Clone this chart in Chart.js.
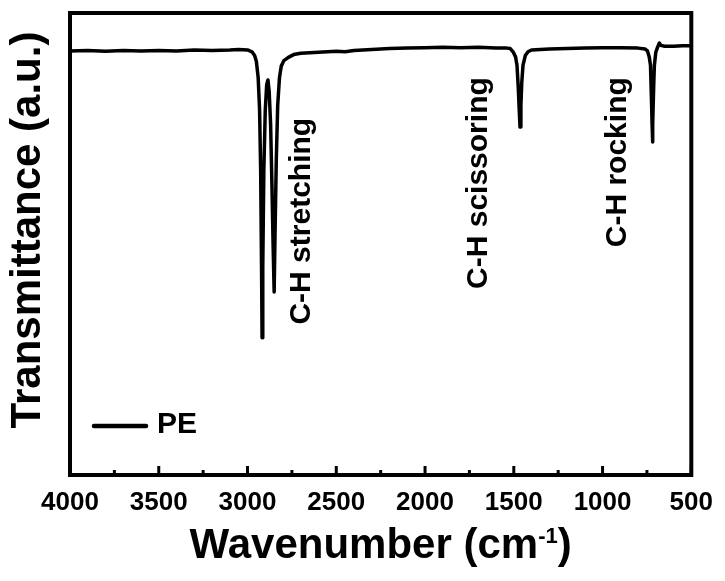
<!DOCTYPE html>
<html>
<head>
<meta charset="utf-8">
<script src="https://cdn.jsdelivr.net/npm/chart.js@4/dist/chart.umd.min.js"></script>
<style>
  html, body { margin: 0; padding: 0; background: #fff; }
  #wrap { width: 725px; height: 581px; }
</style>
</head>
<body>
<div id="wrap"><canvas id="chartPE" width="725" height="581"></canvas></div>
<script>
// FTIR spectrum of PE (wavenumber in cm-1, transmittance in a.u. on a 0-100 frame)
var wavenumbers = [
    4000, 3900, 3800, 3700, 3600, 3500, 3400, 3300, 3200, 3100, 3050, 3000,
    2975, 2960, 2950, 2940, 2932, 2926, 2921, 2918, 2914, 2908, 2900, 2892,
    2885, 2878, 2870, 2862, 2856, 2850, 2845, 2838, 2830, 2820, 2810, 2795,
    2770, 2740, 2700, 2600, 2500, 2450, 2400, 2300, 2200, 2100, 2000, 1900,
    1800, 1700, 1600, 1540, 1520, 1504, 1490, 1482, 1475, 1470, 1465, 1460,
    1455, 1448, 1435, 1420, 1400, 1300, 1200, 1100, 1000, 900, 800, 760,
    747, 737, 730, 725, 721, 719, 716, 712, 708, 700, 690, 680,
    672, 650, 600, 550, 500
];
var transmittance = [
    91.8, 91.9, 91.7, 91.9, 91.8, 91.9, 91.8, 92.0, 91.9, 92.0, 92.1, 92.0,
    91.6, 90.8, 89.5, 86.0, 79.0, 66.0, 45.0, 29.7, 45.0, 66.0, 79.0, 84.5,
    85.5, 83.0, 76.0, 62.0, 50.0, 39.6, 52.0, 68.0, 80.0, 86.0, 88.5, 89.7,
    90.4, 91.0, 91.3, 91.5, 91.7, 91.6, 91.9, 92.1, 92.3, 92.4, 92.5, 92.6,
    92.5, 92.6, 92.4, 92.4, 92.3, 91.6, 90.5, 88.7, 84.0, 79.5, 75.3, 80.0,
    85.0, 88.7, 90.8, 91.6, 92.0, 92.2, 92.3, 92.4, 92.5, 92.5, 92.4, 92.2,
    91.8, 90.5, 88.7, 82.0, 76.0, 72.1, 76.0, 84.0, 88.7, 91.5, 92.6, 93.5,
    93.0, 92.8, 92.8, 92.9, 92.9
];
var seriesName = 'PE';
var xMajorTicks = [4000, 3500, 3000, 2500, 2000, 1500, 1000, 500];
var xMinorTicks = [3750, 3250, 2750, 2250, 1750, 1250, 750];
var peakLabels = ['C-H stretching', 'C-H scissoring', 'C-H rocking'];
var xTitle = ['Wavenumber (cm', '-1', ')'];
var yTitle = 'Transmittance (a.u.)';

var FONT = '"Liberation Sans", Arial, sans-serif';

// frame, inward ticks, rotated peak labels, axis titles and the little legend
var decor = {
    id: 'decor',
    afterDatasetsDraw: function(chart) {
        var ctx = chart.ctx, a = chart.chartArea;
        var xs = chart.scales.x, ys = chart.scales.y;
        ctx.save();
        ctx.strokeStyle = '#000';
        ctx.fillStyle = '#000';
        ctx.lineWidth = 4;
        ctx.strokeRect(a.left, a.top, a.right - a.left, a.bottom - a.top);

        ctx.lineWidth = 3;
        function tick(v, len) {
            var px = xs.getPixelForValue(v);
            ctx.beginPath(); ctx.moveTo(px, a.bottom); ctx.lineTo(px, a.bottom - len); ctx.stroke();
        }
        xMajorTicks.forEach(function(v) { tick(v, 9); });
        xMinorTicks.forEach(function(v) { tick(v, 5); });

        // peak labels: anchored at the top end of the text, reading bottom to top
        var spots = [[2650, 77.3], [1650, 86.1], [870, 86.1]];
        ctx.font = 'bold 30px ' + FONT;
        ctx.textAlign = 'right';
        ctx.textBaseline = 'alphabetic';
        peakLabels.forEach(function(t, i) {
            ctx.save();
            ctx.translate(xs.getPixelForValue(spots[i][0]), ys.getPixelForValue(spots[i][1]));
            ctx.rotate(-Math.PI / 2);
            ctx.fillText(t, 0, 0);
            ctx.restore();
        });

        // legend
        ctx.lineWidth = 4.5;
        ctx.lineCap = 'round';
        ctx.beginPath(); ctx.moveTo(94, 426); ctx.lineTo(146, 426); ctx.stroke();
        ctx.textAlign = 'left';
        ctx.fillText(chart.data.datasets[0].label, 157, 433);

        // y title
        ctx.save();
        ctx.font = 'bold 42px ' + FONT;
        ctx.textAlign = 'center';
        ctx.translate(40, 230);
        ctx.rotate(-Math.PI / 2);
        ctx.fillText(yTitle, 0, 0);
        ctx.restore();

        // x title with superscript
        var big = 'bold 42px ' + FONT, small = 'bold 22px ' + FONT;
        ctx.font = big; var w1 = ctx.measureText(xTitle[0]).width, w3 = ctx.measureText(xTitle[2]).width;
        ctx.font = small; var w2 = ctx.measureText(xTitle[1]).width;
        var x0 = (a.left + a.right) / 2 - (w1 + w2 + w3) / 2;
        ctx.textAlign = 'left';
        ctx.font = big; ctx.fillText(xTitle[0], x0, 558);
        ctx.font = small; ctx.fillText(xTitle[1], x0 + w1, 543);
        ctx.font = big; ctx.fillText(xTitle[2], x0 + w1 + w2, 558);
        ctx.restore();
    }
};

new Chart(document.getElementById('chartPE'), {
    type: 'line',
    data: {
        datasets: [{
            label: seriesName,
            data: wavenumbers.map(function(w, i) { return { x: w, y: transmittance[i] }; }),
            borderColor: '#000',
            borderWidth: 3.5,
            borderJoinStyle: 'round',
            borderCapStyle: 'round',
            pointRadius: 0,
            tension: 0,
            fill: false
        }]
    },
    options: {
        responsive: false, animation: false, devicePixelRatio: 1,
        layout: { padding: { top: 13, right: 31, left: 0, bottom: 0 } },
        plugins: { legend: { display: false }, tooltip: { enabled: false } },
        scales: {
            x: {
                type: 'linear', reverse: true, min: 500, max: 4000,
                afterBuildTicks: function(s) { s.ticks = xMajorTicks.map(function(v) { return { value: v }; }); },
                afterFit: function(s) { s.height = 106; },
                grid: { display: false, drawTicks: false },
                border: { display: false },
                ticks: { color: '#000', padding: 12, maxRotation: 0, autoSkip: false,
                         callback: function(v) { return String(v); },
                         font: { family: FONT, size: 26, weight: 'bold' } }
            },
            y: {
                min: 0, max: 100,
                afterFit: function(s) { s.width = 70; },
                grid: { display: false, drawTicks: false },
                border: { display: false },
                ticks: { display: false }
            }
        }
    },
    plugins: [decor]
});
</script>
</body>
</html>
